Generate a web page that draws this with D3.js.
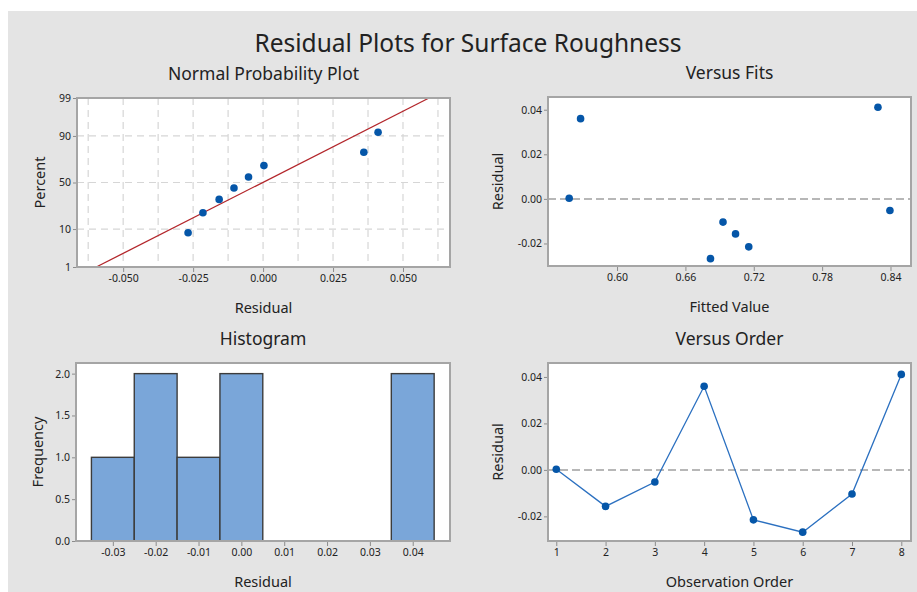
<!DOCTYPE html>
<html>
<head>
<meta charset="utf-8">
<script src="https://cdn.jsdelivr.net/npm/d3@7"></script>
<style>
    body { margin: 0; background: #fff; }
    text { font-family: "Noto Sans", "Open Sans", sans-serif; fill: #222; }
</style>
</head>
<body>
<svg id="chart" width="917" height="592"></svg>
<script>
// Residuals in observation order
let order = [1, 2, 3, 4, 5, 6, 7, 8];
let residuals = [0.0003, -0.0157, -0.0052, 0.0360, -0.0215, -0.0268, -0.0104, 0.0411];
let fitted = [0.558, 0.704, 0.8395, 0.568, 0.7156, 0.682, 0.693, 0.829];

// Normal probability plot (sorted residuals and their percent)
let probPercent = [8.3, 20.2, 32.1, 44.0, 56.0, 67.9, 79.8, 91.7];
let fitLine = [{ res: -0.0596, pct: 1 }, { res: 0.0593, pct: 99 }];
let percentTicks = [1, 10, 50, 90, 99];
let percentGrid = [10, 50, 90];
let nppResidTicks = [-0.050, -0.025, 0, 0.025, 0.050];
let nppResidGrid = [-0.0625, -0.05, -0.0375, -0.025, -0.0125, 0, 0.0125, 0.025, 0.0375, 0.05, 0.0625];

// Histogram
let histBins = [-0.03, -0.02, -0.01, 0.00, 0.01, 0.02, 0.03, 0.04];
let histCounts = [1, 2, 1, 2, 0, 0, 0, 2];
let histBinWidth = 0.01;
let freqTicks = [0, 0.5, 1.0, 1.5, 2.0];

let fitTicks = [0.60, 0.66, 0.72, 0.78, 0.84];
let residTicks = [-0.02, 0, 0.02, 0.04];

const blue = "#0556a8";
const fmt = d3.formatLocale({ decimal: ".", thousands: ",", grouping: [3], currency: ["", ""], minus: "-" }).format;

// inverse normal CDF (Acklam)
function qnorm(p) {
    let a = [-39.69683028665376, 220.9460984245205, -275.9285104469687, 138.3577518672690, -30.66479806614716, 2.506628277459239];
    let b = [-54.47609879822406, 161.5858368580409, -155.6989798598866, 66.80131188771972, -13.28068155288572];
    let c = [-0.007784894002430293, -0.3223964580411365, -2.400758277161838, -2.549732539343734, 4.374664141464968, 2.938163982698783];
    let d = [0.007784695709041462, 0.3224671290700398, 2.445134137142996, 3.754408661907416];
    let pl = 0.02425, q, r;
    if (p < pl) {
        q = Math.sqrt(-2 * Math.log(p));
        return (((((c[0]*q+c[1])*q+c[2])*q+c[3])*q+c[4])*q+c[5]) / ((((d[0]*q+d[1])*q+d[2])*q+d[3])*q+1);
    } else if (p <= 1 - pl) {
        q = p - 0.5; r = q * q;
        return (((((a[0]*r+a[1])*r+a[2])*r+a[3])*r+a[4])*r+a[5])*q / (((((b[0]*r+b[1])*r+b[2])*r+b[3])*r+b[4])*r+1);
    } else {
        q = Math.sqrt(-2 * Math.log(1 - p));
        return -(((((c[0]*q+c[1])*q+c[2])*q+c[3])*q+c[4])*q+c[5]) / ((((d[0]*q+d[1])*q+d[2])*q+d[3])*q+1);
    }
}

let svg = d3.select("#chart");
svg.append("rect").attr("x", 8).attr("y", 11).attr("width", 909).attr("height", 581).attr("fill", "#e4e4e4");

svg.append("text")
    .attr("x", 468).attr("y", 42)
    .attr("text-anchor", "middle").attr("dominant-baseline", "central")
    .style("font-size", "24.5px")
    .text("Residual Plots for Surface Roughness");

function panel(o) {
    let g = svg.append("g");
    let x = d3.scaleLinear().domain(o.xDomain).range([o.left, o.right]);
    let y = d3.scaleLinear().domain(o.yDomain).range([o.bottom, o.top]);

    g.append("rect")
        .attr("x", o.left).attr("y", o.top)
        .attr("width", o.right - o.left).attr("height", o.bottom - o.top)
        .attr("fill", "#fff");

    let xa = g.append("g")
        .attr("transform", `translate(0,${o.bottom + 1})`)
        .call(d3.axisBottom(x).tickValues(o.xTicks).tickSize(4).tickPadding(3).tickFormat(o.xFormat));
    let ya = g.append("g")
        .attr("transform", `translate(${o.left - 1},0)`)
        .call(d3.axisLeft(y).tickValues(o.yTicks).tickSize(3).tickPadding(2).tickFormat(o.yFormat));
    [xa, ya].forEach(a => {
        a.select(".domain").remove();
        a.selectAll(".tick line").attr("stroke", "#8c8c8c");
        a.selectAll(".tick text").style("font-size", "10.5px").attr("fill", "#1a1a1a");
    });

    g.append("text")
        .attr("x", (o.left + o.right) / 2).attr("y", o.top - 25)
        .attr("text-anchor", "middle").attr("dominant-baseline", "central")
        .style("font-size", "17.5px")
        .text(o.title);
    g.append("text")
        .attr("x", (o.left + o.right) / 2).attr("y", o.bottom + 40)
        .attr("text-anchor", "middle").attr("dominant-baseline", "central")
        .style("font-size", "14.5px")
        .text(o.xLabel);
    g.append("text")
        .attr("transform", `translate(${o.left - o.yLabelOffset},${(o.top + o.bottom) / 2}) rotate(-90)`)
        .attr("text-anchor", "middle").attr("dominant-baseline", "central")
        .style("font-size", "14.5px")
        .text(o.yLabel);

    let plot = g.append("g");
    let frame = () => g.append("rect")
        .attr("x", o.left).attr("y", o.top)
        .attr("width", o.right - o.left).attr("height", o.bottom - o.top)
        .attr("fill", "none").attr("stroke", "#a5a5a5").attr("stroke-width", 2);
    return { plot, x, y, frame };
}

// Normal Probability Plot
let npp = panel({
    left: 77, right: 450, top: 98, bottom: 267,
    xDomain: [-0.0665, 0.0668], yDomain: [qnorm(0.01), qnorm(0.99)],
    xTicks: nppResidTicks, yTicks: percentTicks.map(p => qnorm(p / 100)),
    xFormat: fmt(".3f"), yFormat: (d, i) => percentTicks[i],
    title: "Normal Probability Plot", xLabel: "Residual", yLabel: "Percent", yLabelOffset: 38
});
npp.plot.selectAll(".vgrid").data(nppResidGrid).join("line")
    .attr("x1", d => npp.x(d)).attr("x2", d => npp.x(d))
    .attr("y1", 98).attr("y2", 267)
    .attr("stroke", "#d6d6d6").attr("stroke-dasharray", "7,5").attr("stroke-width", 1.2);
npp.plot.selectAll(".hgrid").data(percentGrid).join("line")
    .attr("x1", 77).attr("x2", 450)
    .attr("y1", d => npp.y(qnorm(d / 100))).attr("y2", d => npp.y(qnorm(d / 100)))
    .attr("stroke", "#d6d6d6").attr("stroke-dasharray", "7,5").attr("stroke-width", 1.2);
npp.plot.append("line")
    .attr("x1", npp.x(fitLine[0].res)).attr("y1", npp.y(qnorm(fitLine[0].pct / 100)))
    .attr("x2", npp.x(fitLine[1].res)).attr("y2", npp.y(qnorm(fitLine[1].pct / 100)))
    .attr("stroke", "#b3262b").attr("stroke-width", 1.3);
let sortedRes = residuals.slice().sort(d3.ascending);
npp.plot.selectAll("circle").data(sortedRes).join("circle")
    .attr("cx", d => npp.x(d)).attr("cy", (d, i) => npp.y(qnorm(probPercent[i] / 100)))
    .attr("r", 3.8).attr("fill", blue);
npp.frame();

// Versus Fits
let vf = panel({
    left: 548, right: 911, top: 97, bottom: 266,
    xDomain: [0.5394, 0.858], yDomain: [-0.0301, 0.0457],
    xTicks: fitTicks, yTicks: residTicks,
    xFormat: fmt(".2f"), yFormat: fmt(".2f"),
    title: "Versus Fits", xLabel: "Fitted Value", yLabel: "Residual", yLabelOffset: 51
});
vf.plot.append("line")
    .attr("x1", 548).attr("x2", 911).attr("y1", vf.y(0)).attr("y2", vf.y(0))
    .attr("stroke", "#a0a0a0").attr("stroke-dasharray", "8,4").attr("stroke-width", 1.5);
vf.plot.selectAll("circle").data(order).join("circle")
    .attr("cx", i => vf.x(fitted[i - 1])).attr("cy", i => vf.y(residuals[i - 1]))
    .attr("r", 3.8).attr("fill", blue);
vf.frame();

// Histogram
let hist = panel({
    left: 76, right: 450, top: 363, bottom: 541,
    xDomain: [-0.0386, 0.0487], yDomain: [0, 2.127],
    xTicks: histBins, yTicks: freqTicks,
    xFormat: fmt(".2f"), yFormat: fmt(".1f"),
    title: "Histogram", xLabel: "Residual", yLabel: "Frequency", yLabelOffset: 39
});
hist.plot.selectAll("rect").data(histBins.filter((b, i) => histCounts[i] > 0)).join("rect")
    .attr("x", b => hist.x(b - histBinWidth / 2))
    .attr("width", b => hist.x(b + histBinWidth / 2) - hist.x(b - histBinWidth / 2))
    .attr("y", b => hist.y(histCounts[histBins.indexOf(b)]))
    .attr("height", b => hist.y(0) - hist.y(histCounts[histBins.indexOf(b)]))
    .attr("fill", "#7aa6d9").attr("stroke", "#3c3c3c").attr("stroke-width", 1.4);
hist.frame();

// Versus Order
let vo = panel({
    left: 548, right: 911, top: 363, bottom: 541,
    xDomain: [0.832, 8.197], yDomain: [-0.0306, 0.046],
    xTicks: order, yTicks: residTicks,
    xFormat: fmt("d"), yFormat: fmt(".2f"),
    title: "Versus Order", xLabel: "Observation Order", yLabel: "Residual", yLabelOffset: 51
});
vo.plot.append("line")
    .attr("x1", 548).attr("x2", 911).attr("y1", vo.y(0)).attr("y2", vo.y(0))
    .attr("stroke", "#a0a0a0").attr("stroke-dasharray", "8,4").attr("stroke-width", 1.5);
let line = d3.line().x(i => vo.x(i)).y(i => vo.y(residuals[i - 1]));
vo.plot.append("path").datum(order).attr("d", line)
    .attr("fill", "none").attr("stroke", "#2b70c0").attr("stroke-width", 1.3);
vo.plot.selectAll("circle").data(order).join("circle")
    .attr("cx", i => vo.x(i)).attr("cy", i => vo.y(residuals[i - 1]))
    .attr("r", 3.8).attr("fill", blue);
vo.frame();
</script>
</body>
</html>
